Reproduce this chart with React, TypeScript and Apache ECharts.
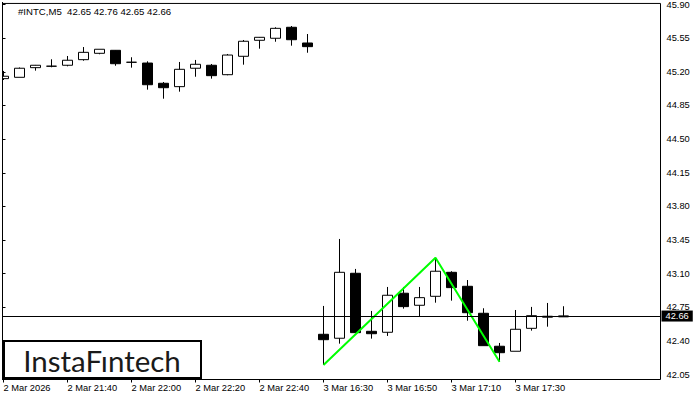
import React, { useEffect, useRef } from "react";
import * as echarts from "echarts";

const times = [
  "2 Mar 2026", "2 Mar 21:25", "2 Mar 21:30", "2 Mar 21:35", "2 Mar 21:40", "2 Mar 21:45", "2 Mar 21:50", "2 Mar 21:55",
  "2 Mar 22:00", "2 Mar 22:05", "2 Mar 22:10", "2 Mar 22:15", "2 Mar 22:20", "2 Mar 22:25", "2 Mar 22:30", "2 Mar 22:35",
  "2 Mar 22:40", "2 Mar 22:45", "2 Mar 22:50", "2 Mar 22:55", "3 Mar 16:30", "3 Mar 16:35", "3 Mar 16:40", "3 Mar 16:45",
  "3 Mar 16:50", "3 Mar 16:55", "3 Mar 17:00", "3 Mar 17:05", "3 Mar 17:10", "3 Mar 17:15", "3 Mar 17:20", "3 Mar 17:25",
  "3 Mar 17:30", "3 Mar 17:35", "3 Mar 17:40", "3 Mar 17:45",
];
// empty slots to the right of the last bar, as in the terminal
const emptySlots = ["", "", "", "", "", ""];

const opens = [
  45.121, 45.135, 45.235, 45.25, 45.26, 45.318, 45.384, 45.415, 45.291, 45.283, 45.073, 45.038,
  45.229, 45.26, 45.162, 45.353, 45.519, 45.54, 45.654, 45.491, 42.469, 42.428, 43.102, 42.5,
  42.49, 42.895, 42.77, 42.863, 43.112, 42.967, 42.687, 42.345, 42.293, 42.531, 42.646, 42.65,
];
const closes = [
  45.146, 45.229, 45.26, 45.25, 45.312, 45.394, 45.426, 45.276, 45.291, 45.058, 45.027, 45.218,
  45.27, 45.152, 45.366, 45.509, 45.55, 45.643, 45.525, 45.453, 42.413, 43.112, 42.486, 42.475,
  42.874, 42.756, 42.849, 43.123, 42.953, 42.693, 42.351, 42.278, 42.521, 42.662, 42.656, 42.66,
];
const lows = [
  45.107, 45.135, 45.204, 45.239, 45.249, 45.307, 45.374, 45.255, 45.235, 45.007, 44.913, 44.986,
  45.141, 45.121, 45.156, 45.266, 45.432, 45.504, 45.463, 45.39, 42.151, 42.372, 42.486, 42.424,
  42.452, 42.735, 42.652, 42.797, 42.818, 42.61, 42.351, 42.185, 42.293, 42.507, 42.548, 42.65,
];
const highs = [
  45.201, 45.237, 45.263, 45.322, 45.356, 45.449, 45.426, 45.418, 45.343, 45.301, 45.086, 45.294,
  45.315, 45.273, 45.377, 45.522, 45.553, 45.654, 45.667, 45.584, 42.763, 43.458, 43.147, 42.711,
  42.96, 42.96, 42.96, 43.264, 43.123, 43.032, 42.739, 42.379, 42.721, 42.753, 42.794, 42.76,
];

// double top drawn over the candles: bar index, price
const patternPoints = [
  { bar: 20, price: 42.151 },
  { bar: 27, price: 43.264 },
  { bar: 31, price: 42.185 },
];

const priceTicks = [42.05, 42.4, 42.75, 43.1, 43.45, 43.8, 44.15, 44.5, 44.85, 45.2, 45.55, 45.9];
const lastPrice = 42.66;
const priceMin = 42.0;
const priceMax = 45.911;
const labelStep = 4;

const font = "'Liberation Sans', Arial, sans-serif";

const App: React.FC = () => {
  const chartRef = useRef<HTMLDivElement | null>(null);

  useEffect(() => {
    if (!chartRef.current) return;
    const myChart = echarts.init(chartRef.current, undefined, { renderer: "svg" });

    const categories = times.concat(emptySlots);
    const showBar = (i: number) => i % labelStep === 0 && i < times.length;

    const option = {
      animation: false,
      backgroundColor: "#fff",
      title: {
        text: "#INTC,M5  42.65 42.76 42.65 42.66",
        left: 18,
        top: 6,
        padding: 0,
        textStyle: { fontFamily: font, fontSize: 9.6, fontWeight: "normal", color: "#000" },
      },
      grid: [
        // frame and price scale
        { left: 2.5, top: 2.5, width: 658, height: 377, show: true, borderColor: "#000", borderWidth: 1, backgroundColor: "transparent" },
        // candles: 16px per bar, first bar half hidden behind the frame
        { left: -4.5, top: 2.5, width: 672, height: 377, outerBoundsMode: "none" },
      ],
      xAxis: [
        { gridIndex: 0, type: "value", min: 0, max: 1, show: false },
        {
          gridIndex: 1,
          type: "category",
          data: categories,
          position: "bottom",
          axisLine: { show: false },
          axisTick: { show: true, alignWithLabel: true, interval: (i: number) => showBar(i), length: 3, lineStyle: { color: "#000" } },
          axisLabel: {
            interval: (i: number) => showBar(i),
            align: "left",
            margin: 4,
            fontFamily: font,
            fontSize: 9.3,
            color: "#000",
          },
          splitLine: { show: false },
        },
      ],
      yAxis: [
        {
          gridIndex: 0,
          type: "value",
          position: "right",
          min: priceMin,
          max: priceMax,
          axisLine: { show: false },
          axisTick: { show: true, length: 3, customValues: priceTicks, lineStyle: { color: "#000" } },
          axisLabel: {
            customValues: priceTicks,
            margin: 6,
            fontFamily: font,
            fontSize: 9.3,
            color: "#000",
            formatter: (v: number) => v.toFixed(2),
            showMinLabel: true,
            showMaxLabel: true,
          },
          splitLine: { show: false },
        },
        { gridIndex: 1, type: "value", min: priceMin, max: priceMax, show: false },
      ],
      series: [
        {
          type: "line",
          xAxisIndex: 0,
          yAxisIndex: 0,
          data: [],
          silent: true,
          z: 1,
          markLine: {
            silent: true,
            symbol: "none",
            lineStyle: { color: "#000", width: 1, type: "solid" },
            label: {
              position: "end",
              distance: 1,
              formatter: lastPrice.toFixed(2),
              backgroundColor: "#000",
              color: "#fff",
              fontFamily: font,
              fontSize: 9.3,
              padding: [1, 4, 0, 4],
              height: 10,
            },
            data: [{ yAxis: lastPrice }],
          },
        },
        {
          type: "candlestick",
          xAxisIndex: 1,
          yAxisIndex: 1,
          barWidth: 10,
          z: 3,
          itemStyle: {
            color: "#fff",
            color0: "#000",
            borderColor: "#000",
            borderColor0: "#000",
            borderColorDoji: "#000",
            borderWidth: 1,
          },
          data: opens.map((o, i) => [o, closes[i], lows[i], highs[i]]),
        },
        {
          type: "line",
          xAxisIndex: 1,
          yAxisIndex: 1,
          z: 4,
          symbol: "none",
          connectNulls: true,
          lineStyle: { color: "#00ff00", width: 2 },
          data: categories.map((_, i) => {
            const p = patternPoints.find((q) => q.bar === i);
            return p ? p.price : null;
          }),
        },
      ],
      graphic: [
        // hides the part of the first bar left of the frame
        { type: "rect", z: 50, shape: { x: 0, y: 0, width: 2, height: 380 }, style: { fill: "#fff" } },
        { type: "line", z: 51, shape: { x1: 2.5, y1: 2, x2: 2.5, y2: 380 }, style: { stroke: "#000", lineWidth: 1 } },
        { type: "rect", z: 52, shape: { x: 4, y: 341, width: 197, height: 37 }, style: { fill: "#fff", stroke: "#000", lineWidth: 2 } },
        {
          type: "text",
          z: 53,
          x: 102,
          y: 360,
          style: {
            text: "InstaF\u0131ntech",
            fontFamily: "Lato, sans-serif",
            fontSize: 29.5,
            fill: "#1a1a1a",
            align: "center",
            verticalAlign: "middle",
          },
        },
      ],
    };

    myChart.setOption(option);

    return () => {
      myChart.dispose();
    };
  }, []);

  return <div ref={chartRef} style={{ position: "absolute", left: 0, top: 0, width: "700px", height: "400px" }} />;
};

export default App;
